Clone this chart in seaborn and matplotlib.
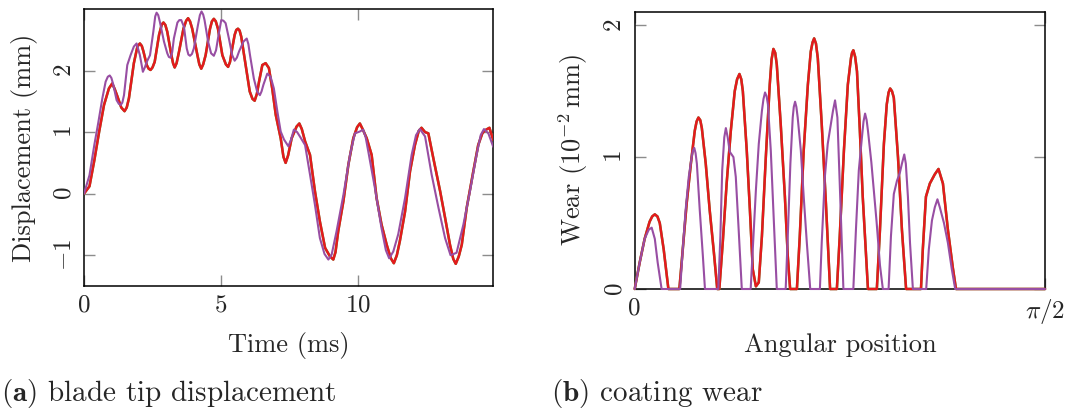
import matplotlib
matplotlib.use("Agg")
import matplotlib.pyplot as plt
import numpy as np
import seaborn as sns

# Panel (a): blade tip displacement (mm) vs time (ms)
t_red = [0, 0.20, 0.38, 0.55, 0.73, 0.91, 1.03, 1.12, 1.22, 1.36, 1.48, 1.56, 1.64, 1.82,
         1.95, 2.04, 2.11, 2.17, 2.29, 2.36, 2.43, 2.50, 2.58, 2.74, 2.84, 2.90, 2.97, 3.04,
         3.19, 3.25, 3.31, 3.38, 3.47, 3.63, 3.73, 3.80, 3.87, 3.95, 4.14, 4.21, 4.28, 4.35,
         4.44, 4.60, 4.67, 4.74, 4.81, 4.89, 5.05, 5.18, 5.26, 5.33, 5.41, 5.50, 5.56, 5.62,
         5.68, 5.74, 5.90, 6.05, 6.15, 6.23, 6.31, 6.39, 6.51, 6.63, 6.75, 6.87, 7.00, 7.18,
         7.28, 7.36, 7.45, 7.58, 7.76, 7.86, 7.95, 8.07, 8.25, 8.43, 8.61, 8.80, 8.98, 9.10,
         9.18, 9.28, 9.47, 9.65, 9.83, 9.97, 10.07, 10.17, 10.32, 10.50, 10.68, 10.86, 11.05,
         11.20, 11.31, 11.42, 11.53, 11.72, 11.90, 12.08, 12.22, 12.32, 12.45, 12.57, 12.75,
         13.00, 13.18, 13.36, 13.48, 13.57, 13.68, 13.79, 13.97, 14.21, 14.39, 14.54, 14.64,
         14.80, 14.94]
d_red = [0, 0.12, 0.55, 1.00, 1.44, 1.71, 1.79, 1.70, 1.58, 1.40, 1.34, 1.40, 1.55, 2.12,
         2.39, 2.44, 2.40, 2.31, 2.09, 2.03, 2.01, 2.05, 2.14, 2.58, 2.75, 2.78, 2.74, 2.63,
         2.25, 2.12, 2.05, 2.12, 2.31, 2.68, 2.81, 2.85, 2.80, 2.68, 2.25, 2.10, 2.03, 2.10,
         2.25, 2.68, 2.80, 2.84, 2.80, 2.68, 2.25, 2.10, 2.06, 2.14, 2.36, 2.58, 2.66, 2.68,
         2.65, 2.55, 2.09, 1.66, 1.54, 1.51, 1.62, 1.82, 2.09, 2.12, 2.04, 1.71, 1.28, 0.90,
         0.60, 0.50, 0.62, 0.90, 1.09, 1.14, 1.05, 0.85, 0.63, 0.04, -0.45, -0.88, -1.02, -1.07,
         -0.95, -0.61, -0.12, 0.47, 0.90, 1.08, 1.14, 1.05, 0.90, 0.63, -0.07, -0.50, -0.83,
         -1.05, -1.13, -1.00, -0.77, -0.29, 0.36, 0.79, 1.02, 1.07, 1.00, 0.98, 0.58,
         0.04, -0.39, -0.83, -1.06, -1.14, -1.02, -0.83, -0.23, 0.36, 0.79, 0.98, 1.03,
         1.07, 0.87]

t_purple = [0, 0.20, 0.38, 0.52, 0.67, 0.79, 0.87, 0.94, 1.00, 1.07, 1.19, 1.27, 1.34, 1.40,
            1.46, 1.58, 1.70, 1.82, 1.92, 2.04, 2.15, 2.22, 2.29, 2.41, 2.53, 2.60, 2.65, 2.71,
            2.77, 2.92, 3.04, 3.10, 3.16, 3.22, 3.28, 3.41, 3.48, 3.55, 3.65, 3.75, 3.81, 3.87,
            3.94, 4.01, 4.16, 4.23, 4.29, 4.35, 4.40, 4.53, 4.64, 4.74, 4.82, 4.89, 5.01, 5.09,
            5.17, 5.29, 5.41, 5.50, 5.58, 5.66, 5.82, 5.94, 6.00, 6.06, 6.20, 6.32, 6.42, 6.48,
            6.55, 6.69, 6.81, 6.93, 7.06, 7.18, 7.30, 7.46, 7.56, 7.66, 7.78, 7.88, 8.07, 8.25,
            8.43, 8.61, 8.78, 8.92, 9.04, 9.22, 9.47, 9.71, 9.89, 10.07, 10.19, 10.28, 10.38,
            10.62, 10.86, 11.02, 11.14, 11.29, 11.47, 11.72, 11.96, 12.12, 12.26, 12.45, 12.69,
            12.94, 13.18, 13.38, 13.60, 13.85, 14.09, 14.33, 14.48, 14.60, 14.76, 14.94]
d_purple = [0, 0.30, 0.80, 1.15, 1.55, 1.82, 1.90, 1.92, 1.88, 1.77, 1.52, 1.46, 1.44, 1.48,
            1.60, 2.09, 2.25, 2.39, 2.44, 2.25, 1.98, 2.05, 2.14, 2.25, 2.63, 2.88, 2.94, 2.90,
            2.79, 2.47, 2.28, 2.22, 2.21, 2.30, 2.52, 2.78, 2.82, 2.82, 2.71, 2.36, 2.26, 2.24,
            2.27, 2.36, 2.74, 2.90, 2.96, 2.91, 2.82, 2.47, 2.28, 2.24, 2.33, 2.52, 2.82, 2.81,
            2.77, 2.52, 2.25, 2.16, 2.21, 2.31, 2.47, 2.52, 2.43, 2.25, 1.87, 1.66, 1.60, 1.66,
            1.77, 1.95, 1.90, 1.71, 1.33, 1.01, 0.88, 0.77, 0.88, 1.04, 1.00, 0.93, 0.79, 0.31,
            -0.18, -0.72, -0.98, -1.07, -0.99, -0.61, -0.02, 0.63, 0.98, 1.01, 1.04, 0.92, 0.68,
            0.09, -0.56, -0.92, -1.05, -0.94, -0.66, -0.07, 0.63, 0.95, 1.05, 0.93, 0.31,
            -0.23, -0.72, -1.00, -0.96, -0.50, 0.04, 0.63, 0.95, 1.05, 0.98, 0.76]

# Panel (b): coating wear (1e-2 mm) vs angular position (rad)
ang_red = [0.000, 0.019, 0.038, 0.057, 0.067, 0.077, 0.087, 0.096, 0.111, 0.129,
           0.171, 0.184, 0.199, 0.215, 0.230, 0.237, 0.244, 0.251, 0.257, 0.272, 0.287, 0.303,
           0.316,
           0.324, 0.337, 0.352, 0.368, 0.383, 0.392, 0.401, 0.408, 0.414, 0.429, 0.441, 0.452,
           0.464, 0.475,
           0.487, 0.502, 0.517, 0.524, 0.531, 0.538, 0.544, 0.559, 0.575, 0.586, 0.595,
           0.621, 0.632, 0.647, 0.663, 0.674, 0.681, 0.687, 0.694, 0.701, 0.716, 0.732, 0.748,
           0.774, 0.785, 0.801, 0.816, 0.828, 0.832, 0.837, 0.844, 0.851, 0.862, 0.873, 0.893,
           0.927, 0.939, 0.954, 0.965, 0.972, 0.978, 0.985, 0.992, 1.008, 1.023, 1.039,
           1.096, 1.103, 1.115, 1.130, 1.149, 1.163, 1.180, 1.199, 1.218, 1.230,
           1.571]
wear_red = [0, 0.20, 0.38, 0.51, 0.55, 0.566, 0.55, 0.50, 0.30, 0,
            0, 0.30, 0.65, 0.95, 1.20, 1.27, 1.30, 1.28, 1.22, 0.95, 0.60, 0.28,
            0,
            0, 0.35, 0.80, 1.20, 1.50, 1.59, 1.63, 1.59, 1.50, 1.05, 0.60, 0.15,
            0.02, 0.05,
            0.40, 1.00, 1.55, 1.74, 1.82, 1.79, 1.70, 1.25, 0.70, 0.25, 0,
            0, 0.40, 1.05, 1.55, 1.80, 1.87, 1.90, 1.86, 1.75, 1.25, 0.65, 0,
            0, 0.40, 1.05, 1.55, 1.75, 1.79, 1.81, 1.76, 1.65, 1.20, 0.70, 0,
            0, 0.45, 1.10, 1.40, 1.49, 1.52, 1.50, 1.45, 1.00, 0.45, 0,
            0, 0.30, 0.70, 0.80, 0.87, 0.91, 0.80, 0.45, 0.16, 0,
            0]

ang_purple = [0.000, 0.019, 0.038, 0.054, 0.065, 0.077, 0.088, 0.103,
              0.174, 0.184, 0.195, 0.207, 0.218, 0.223, 0.228, 0.233, 0.238, 0.249, 0.261,
              0.269,
              0.320, 0.328, 0.335, 0.343, 0.349, 0.356, 0.364, 0.378, 0.387, 0.398, 0.410,
              0.444, 0.452, 0.464, 0.475, 0.487, 0.493, 0.499, 0.505, 0.510, 0.521, 0.533,
              0.544,
              0.578, 0.586, 0.596, 0.605, 0.609, 0.614, 0.619, 0.624, 0.636, 0.647, 0.659,
              0.672,
              0.709, 0.716, 0.728, 0.739, 0.751, 0.759, 0.767, 0.776, 0.785, 0.799,
              0.837, 0.847, 0.858, 0.870, 0.876, 0.882, 0.888, 0.893, 0.906, 0.926, 0.939,
              0.950,
              0.972, 0.981, 0.992, 1.004, 1.015, 1.023, 1.032, 1.038, 1.046, 1.054, 1.065,
              1.116, 1.126, 1.138, 1.149, 1.159, 1.168, 1.184, 1.199, 1.214, 1.227,
              1.571]
wear_purple = [0, 0.20, 0.38, 0.45, 0.465, 0.38, 0.20, 0,
               0, 0.30, 0.60, 0.85, 1.00, 1.05, 1.07, 1.03, 0.95, 0.60, 0.25,
               0,
               0, 0.40, 0.90, 1.15, 1.22, 1.15, 1.04, 1.00, 0.85, 0.45, 0,
               0, 0.30, 0.75, 1.10, 1.35, 1.44, 1.49, 1.46, 1.40, 1.05, 0.50,
               0,
               0, 0.40, 0.95, 1.30, 1.38, 1.42, 1.38, 1.30, 1.05, 0.70, 0.35,
               0,
               0, 0.35, 0.85, 1.10, 1.25, 1.35, 1.43, 1.30, 0.80, 0,
               0, 0.45, 0.90, 1.15, 1.27, 1.33, 1.28, 1.20, 0.96, 0.51, 0.18,
               0,
               0, 0.40, 0.72, 0.82, 0.88, 0.95, 1.02, 0.95, 0.70, 0.35, 0,
               0, 0.30, 0.52, 0.62, 0.68, 0.62, 0.50, 0.35, 0.15, 0,
               0]

GREEN = "#4daf4a"
RED = "#e41a1c"
PURPLE = "#984ea3"

sns.set_theme(style="white")
plt.rcParams["font.family"] = ["cmr10"]
plt.rcParams["mathtext.fontset"] = "cm"
plt.rcParams["axes.formatter.use_mathtext"] = True

fig = plt.figure(figsize=(10.73, 4.15), dpi=100)
ax1 = fig.add_axes([84 / 1073, 1 - 286 / 415, 409 / 1073, 277 / 415])
ax2 = fig.add_axes([634.7 / 1073, 1 - 289 / 415, 410.3 / 1073, 277 / 415])

LABEL_FS = 19
TICK_FS = 18
CAP_FS = 21

# (a) displacement
for x, y, c, w in [(t_red, d_red, GREEN, 1.8), (t_red, d_red, RED, 1.8),
                   (t_purple, d_purple, PURPLE, 1.5)]:
    sns.lineplot(x=x, y=y, ax=ax1, color=c, lw=w, estimator=None, sort=False)
ax1.set_xlim(0, 14.93)
ax1.set_ylim(-1.5, 3)
ax1.set_xticks([0, 5, 10])
ax1.set_yticks([-1, 0, 1, 2])
ax1.set_xlabel("Time (ms)", fontsize=LABEL_FS)
ax1.set_ylabel("Displacement (mm)", fontsize=LABEL_FS)
ax1.xaxis.set_label_coords(0.5, -0.165)
ax1.yaxis.set_label_coords(-0.112, 0.5)

# (b) wear
for x, y, c, w in [(ang_red, wear_red, GREEN, 1.8), (ang_red, wear_red, RED, 1.8),
                   (ang_purple, wear_purple, PURPLE, 1.5)]:
    sns.lineplot(x=x, y=y, ax=ax2, color=c, lw=w, estimator=None, sort=False, clip_on=False)
ax2.set_xlim(0, np.pi / 2)
ax2.set_ylim(0, 2.1)
ax2.set_xticks([0, np.pi / 2])
ax2.set_xticklabels(["0", r"$\pi/2$"])
ax2.set_yticks([0, 1, 2])
ax2.set_xlabel("Angular position", fontsize=LABEL_FS)
ax2.set_ylabel(r"Wear ($10^{-2}\,\mathrm{mm}$)", fontsize=LABEL_FS)
ax2.xaxis.set_label_coords(0.5, -0.16)
ax2.yaxis.set_label_coords(-0.108, 0.5)

for ax in (ax1, ax2):
    for s in ax.spines.values():
        s.set_color("black")
        s.set_linewidth(1.1)
        s.set_zorder(1)
    ax.tick_params(which="both", direction="in", length=8, width=1.0, color="#8c8c8c",
                   top=True, right=True, bottom=True, left=True, labelsize=TICK_FS, pad=6)
    ax.tick_params(axis="y", labelrotation=90)
    for lbl in ax.get_yticklabels():
        lbl.set_va("center")
    ax.grid(False)

fig.text(0.001, 1 - 393 / 415, r"$\mathbf{(a)}$ blade tip displacement", fontsize=CAP_FS,
         va="center", ha="left")
fig.text(551 / 1073, 1 - 393 / 415, r"$\mathbf{(b)}$ coating wear", fontsize=CAP_FS,
         va="center", ha="left")

fig.savefig("out.png", dpi=100)
